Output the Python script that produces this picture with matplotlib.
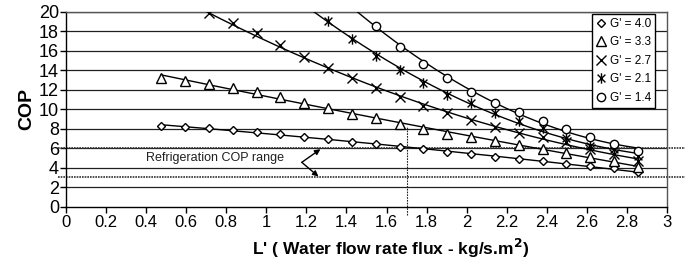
import numpy as np
import matplotlib
matplotlib.use("Agg")
import matplotlib.pyplot as plt
from matplotlib.path import Path

plt.rcParams['font.family'] = ['Liberation Sans', 'DejaVu Sans']

# ---- data ----
L_all = [0.475, 0.594, 0.713, 0.832, 0.951, 1.070, 1.189, 1.308, 1.427, 1.546, 1.665,
         1.784, 1.903, 2.022, 2.141, 2.260, 2.379, 2.498, 2.617, 2.736, 2.855]

cop_g40 = [8.25, 8.14, 8.04, 7.87, 7.69, 7.46, 7.20, 6.95, 6.67, 6.42, 6.15,
           5.90, 5.64, 5.40, 5.10, 4.90, 4.65, 4.38, 4.13, 3.92, 3.55]
cop_g33 = [13.2, 12.9, 12.62, 12.15, 11.75, 11.25, 10.67, 10.1, 9.55, 9.05, 8.45,
           8.0, 7.5, 7.2, 6.7, 6.3, 5.95, 5.5, 5.1, 4.7, 4.05]
L_g27 = L_all[1:]
cop_g27 = [20.8, 19.83, 18.87, 17.78, 16.58, 15.4, 14.19, 13.17, 12.14, 11.22,
           10.3, 9.58, 8.93, 8.21, 7.6, 7.15, 6.6, 5.9, 5.4, 4.65]
L_g21 = L_all[6:]
cop_g21 = [21.0, 19.08, 17.17, 15.46, 14.02, 12.65, 11.46, 10.6, 9.63, 8.8,
           8.05, 7.0, 6.25, 5.95, 5.2]
L_g14 = L_all[8:]
cop_g14 = [20.8, 18.5, 16.35, 14.64, 13.17, 11.8, 10.67, 9.68, 8.75, 7.92,
           7.1, 6.45, 5.7]

labels = ["G' = 4.0", "G' = 3.3", "G' = 2.7", "G' = 2.1", "G' = 1.4"]
range_lo, range_hi = 3, 6
L_mark = 1.7
L_mark_top = 8.3

x_ticks = [0, 0.2, 0.4, 0.6, 0.8, 1, 1.2, 1.4, 1.6, 1.8, 2, 2.2, 2.4, 2.6, 2.8, 3]
x_ticklabels = ['0', '0.2', '0.4', '0.6', '0.8', '1', '1.2', '1.4', '1.6', '1.8',
                '2', '2.2', '2.4', '2.6', '2.8', '3']
y_ticks = list(range(0, 21, 2))

# asterisk marker: vertical bar crossed by an X
ast = Path([(0, -1), (0, 1), (-0.75, -0.75), (0.75, 0.75), (-0.75, 0.75), (0.75, -0.75)],
           [Path.MOVETO, Path.LINETO, Path.MOVETO, Path.LINETO, Path.MOVETO, Path.LINETO])

series = [
    (L_all, cop_g40, 'D', 4.5),
    (L_all, cop_g33, '^', 6.5),
    (L_g27, cop_g27, 'x', 6.5),
    (L_g21, cop_g21, ast, 7.5),
    (L_g14, cop_g14, 'o', 6.0),
]

fig = plt.figure(figsize=(6.85, 2.69), dpi=100)
ax = fig.add_axes([66/685, 1 - 206.7/269, (667-66)/685, (206.7-11.7)/269])

ax.set_xlim(0, 3)
ax.set_ylim(0, 20)

for yv in y_ticks[1:]:
    ax.axhline(yv, color='#202020', lw=0.9, zorder=1)

handles = []
for (xs, ys, mk, ms), lab in zip(series, labels):
    xs = np.asarray(xs); ys = np.asarray(ys)
    coef = np.polyfit(xs, ys, 2)
    xd = np.linspace(xs[0], xs[-1], 200)
    ax.plot(xd, np.polyval(coef, xd), color='black', lw=1.0, zorder=3)
    h, = ax.plot(xs, ys, linestyle='none', marker=mk, markersize=ms,
                 markerfacecolor='white', markeredgecolor='black',
                 markeredgewidth=1.0, zorder=4, label=lab)
    handles.append(h)

# refrigeration COP range lines (extend outside plot)
for yv in (range_lo, range_hi):
    ax.plot([-0.04, 3.1], [yv, yv], linestyle=(0, (1, 0.6)), color='#303030',
            lw=1.2, clip_on=False, zorder=2)
ax.plot([L_mark, L_mark], [-0.8, L_mark_top], linestyle=(0, (1.5, 1)),
        color='#202020', lw=0.8, clip_on=False, zorder=2)

ax.text(0.40, 5.0, 'Refrigeration COP range', fontsize=9, va='center', ha='left',
        color='#202020', zorder=5)
vx, vy = 1.177, 4.55
for tx, ty in ((1.27, 5.9), (1.26, 3.1)):
    ax.annotate('', xy=(tx, ty), xytext=(vx, vy),
                arrowprops=dict(arrowstyle='-|>', color='black', lw=1.0,
                                mutation_scale=8, shrinkA=0, shrinkB=0), zorder=5)

ax.set_xticks(x_ticks)
ax.set_xticklabels(x_ticklabels, fontsize=12)
ax.set_yticks(y_ticks)
ax.set_yticklabels([str(v) for v in y_ticks], fontsize=13)
ax.tick_params(axis='both', direction='out', length=4, width=1, color='black', pad=2)
ax.tick_params(axis='y', pad=1)

for s in ax.spines.values():
    s.set_color('black'); s.set_linewidth(1.0)
ax.spines['right'].set_color('#555555')
ax.spines['top'].set_color('#555555')

ax.set_ylabel('COP', fontsize=14, fontweight='bold', labelpad=3)
fig.text(391/685, 1 - 248/269, "L' ( Water flow rate flux - kg/s.m$\\mathbf{^2}$)",
         fontsize=12.5, fontweight='bold', ha='center', va='center')

leg = ax.legend(handles=handles, loc='upper right', bbox_to_anchor=(0.98, 0.99),
                fontsize=8.5, frameon=True, fancybox=False, edgecolor='black',
                framealpha=1, borderpad=0.35, labelspacing=0.55, handlelength=0.8,
                handletextpad=0.3, borderaxespad=0)
leg.get_frame().set_linewidth(1.0)
leg.set_zorder(6)

fig.savefig('out.png', dpi=100)
